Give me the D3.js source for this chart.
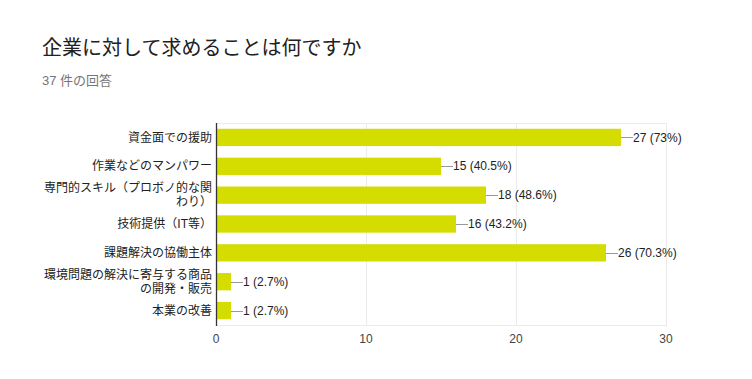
<!DOCTYPE html>
<html><head><meta charset="utf-8">
<script src="https://cdn.jsdelivr.net/npm/d3@7"></script>
<style>
html,body{margin:0;padding:0;background:#fff;}
svg{display:block;}
text{font-family:"Liberation Sans","Noto Sans CJK JP",sans-serif;}
</style></head>
<body>
<svg id="chart" width="752" height="379"></svg>
<script>
const titleText = "企業に対して求めることは何ですか";
const subtitleText = "37 件の回答";
const categories = [
  ["資金面での援助"],
  ["作業などのマンパワー"],
  ["専門的スキル（プロボノ的な関", "わり）"],
  ["技術提供（IT等）"],
  ["課題解決の協働主体"],
  ["環境問題の解決に寄与する商品", "の開発・販売"],
  ["本業の改善"]
];
const values = [27, 15, 18, 16, 26, 1, 1];
const percents = ["73%", "40.5%", "48.6%", "43.2%", "70.3%", "2.7%", "2.7%"];
const xTicks = [0, 10, 20, 30];

const svg = d3.select("#chart");
const pLeft = 216, pRight = 666, pTop = 123, pBottom = 325;
const x = d3.scaleLinear().domain([0, 30]).range([pLeft, pRight]);
const y = d3.scaleBand().domain(d3.range(categories.length)).range([pTop, pBottom]).paddingInner(0.4).paddingOuter(0.2);

svg.append("text").attr("x", 42).attr("y", 55).attr("font-size", 20).attr("fill", "#212121").text(titleText);
svg.append("text").attr("x", 42).attr("y", 85).attr("font-size", 13).attr("fill", "#757575").text(subtitleText);

// plot frame / grid
svg.append("line").attr("x1", pLeft).attr("x2", pRight).attr("y1", pTop + 0.5).attr("y2", pTop + 0.5).attr("stroke", "#ebebeb");
svg.append("line").attr("x1", pLeft).attr("x2", pRight).attr("y1", pBottom + 0.5).attr("y2", pBottom + 0.5).attr("stroke", "#ebebeb");
svg.selectAll(".grid").data(xTicks.filter(d => d > 0)).enter().append("line")
  .attr("x1", d => Math.round(x(d)) + 0.5).attr("x2", d => Math.round(x(d)) + 0.5)
  .attr("y1", pTop).attr("y2", pBottom + 1).attr("stroke", "#ebebeb");

// bars
svg.selectAll(".bar").data(values).enter().append("rect")
  .attr("x", x(0)).attr("y", (d, i) => y(i)).attr("width", d => x(d) - x(0)).attr("height", y.bandwidth())
  .attr("fill", "#d4dc00");

// axis line
svg.append("line").attr("x1", pLeft + 0.5).attr("x2", pLeft + 0.5).attr("y1", pTop).attr("y2", pBottom + 1).attr("stroke", "#333").attr("stroke-width", 1.3);

// value labels with leader
values.forEach((v, i) => {
  const cy = y(i) + y.bandwidth() / 2;
  const xe = x(v);
  svg.append("line").attr("x1", xe).attr("x2", xe + 12).attr("y1", Math.round(cy) + 0.5).attr("y2", Math.round(cy) + 0.5).attr("stroke", "#999");
  svg.append("text").attr("x", xe + 12).attr("y", cy).attr("dy", "0.35em").attr("font-size", 12).attr("fill", "#222")
    .text(v + " (" + percents[i] + ")");
});

// category labels
categories.forEach((lines, i) => {
  const cy = y(i) + y.bandwidth() / 2;
  const lh = 14;
  const t = svg.append("text").attr("text-anchor", "end").attr("font-size", 12).attr("fill", "#222");
  lines.forEach((ln, j) => {
    t.append("tspan").attr("x", 212).attr("y", cy + (j - (lines.length - 1) / 2) * lh).attr("dy", "0.35em").text(ln);
  });
});

// x tick labels
svg.selectAll(".tick").data(xTicks).enter().append("text")
  .attr("x", d => x(d)).attr("y", 339).attr("dy", "0.35em").attr("text-anchor", "middle")
  .attr("font-size", 12).attr("fill", "#444").text(d => d);
</script>
</body></html>
